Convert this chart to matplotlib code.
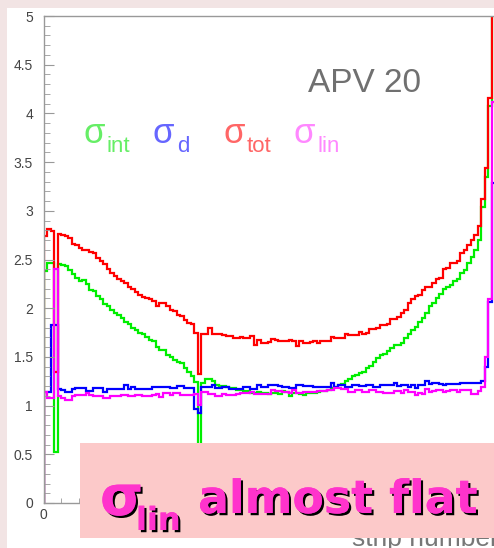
"""
APV 20 noise per strip: sigma_int, sigma_d, sigma_tot, sigma_lin histograms.
"""

import numpy as np
import matplotlib
matplotlib.use("Agg")
import matplotlib.pyplot as plt
import matplotlib.patheffects as pe
from matplotlib.patches import Rectangle
from matplotlib.ticker import MultipleLocator, FuncFormatter

W, H = 494, 548

def fx(px):
    return px / W

def fy(py):
    return 1 - py / H

# ---------------------------------------------------------------------------
# per-strip noise values (bins 0..128)
# ---------------------------------------------------------------------------
sig_tot = [
    2.74, 2.81, 2.79, 1.35, 2.76, 2.75, 2.74, 2.72, 2.66, 2.65,
    2.62, 2.60, 2.60, 2.58, 2.57, 2.52, 2.48, 2.45, 2.40, 2.36,
    2.33, 2.30, 2.28, 2.26, 2.22, 2.20, 2.17, 2.14, 2.12, 2.10,
    2.09, 2.07, 2.02, 2.05, 2.05, 2.02, 1.98, 1.97, 1.93, 1.92,
    1.88, 1.85, 1.84, 1.75, 1.32, 1.73, 1.74, 1.80, 1.74, 1.74,
    1.74, 1.72, 1.71, 1.71, 1.69, 1.69, 1.70, 1.69, 1.69, 1.71,
    1.62, 1.67, 1.64, 1.64, 1.65, 1.68, 1.67, 1.66, 1.66, 1.66,
    1.67, 1.66, 1.61, 1.66, 1.64, 1.64, 1.65, 1.66, 1.64, 1.66,
    1.66, 1.66, 1.70, 1.69, 1.69, 1.69, 1.73, 1.72, 1.72, 1.72,
    1.76, 1.74, 1.75, 1.79, 1.79, 1.80, 1.83, 1.83, 1.84, 1.89,
    1.89, 1.91, 1.95, 1.98, 2.05, 2.09, 2.13, 2.14, 2.19, 2.22,
    2.22, 2.26, 2.30, 2.31, 2.40, 2.41, 2.46, 2.46, 2.48, 2.57,
    2.60, 2.65, 2.70, 2.75, 2.84, 3.12, 3.44, 4.16, 5.60,
]
sig_int = [
    2.38, 2.46, 2.46, 0.52, 2.45, 2.44, 2.43, 2.39, 2.35, 2.31,
    2.28, 2.29, 2.25, 2.19, 2.18, 2.13, 2.09, 2.04, 2.02, 1.98,
    1.95, 1.93, 1.90, 1.86, 1.84, 1.80, 1.78, 1.75, 1.73, 1.70,
    1.67, 1.66, 1.60, 1.57, 1.57, 1.52, 1.50, 1.47, 1.45, 1.44,
    1.39, 1.35, 1.30, 1.24, 0.30, 1.23, 1.27, 1.27, 1.25, 1.21,
    1.20, 1.20, 1.19, 1.18, 1.18, 1.16, 1.16, 1.15, 1.15, 1.13,
    1.13, 1.14, 1.13, 1.13, 1.12, 1.13, 1.13, 1.12, 1.15, 1.14,
    1.10, 1.13, 1.13, 1.12, 1.11, 1.13, 1.13, 1.13, 1.14, 1.15,
    1.15, 1.16, 1.18, 1.19, 1.21, 1.22, 1.25, 1.27, 1.30, 1.31,
    1.33, 1.35, 1.39, 1.41, 1.45, 1.49, 1.52, 1.53, 1.56, 1.59,
    1.62, 1.62, 1.64, 1.69, 1.73, 1.78, 1.81, 1.86, 1.90, 1.95,
    2.02, 2.05, 2.10, 2.15, 2.20, 2.22, 2.24, 2.28, 2.30, 2.36,
    2.39, 2.46, 2.53, 2.60, 2.70, 3.04, 3.35, 4.08, 5.60,
]
sig_d = [
    1.14, 1.14, 1.83, 1.83, 1.17, 1.16, 1.14, 1.14, 1.17, 1.18,
    1.18, 1.18, 1.15, 1.15, 1.18, 1.18, 1.18, 1.14, 1.17, 1.17,
    1.17, 1.17, 1.17, 1.21, 1.17, 1.19, 1.17, 1.17, 1.17, 1.17,
    1.17, 1.19, 1.19, 1.19, 1.19, 1.19, 1.18, 1.18, 1.20, 1.20,
    1.18, 1.18, 1.18, 0.97, 0.92, 1.19, 1.19, 1.19, 1.21, 1.18,
    1.18, 1.19, 1.19, 1.17, 1.17, 1.17, 1.17, 1.19, 1.19, 1.17,
    1.17, 1.21, 1.19, 1.19, 1.21, 1.21, 1.21, 1.20, 1.19, 1.19,
    1.18, 1.18, 1.21, 1.21, 1.20, 1.20, 1.20, 1.19, 1.19, 1.19,
    1.19, 1.19, 1.23, 1.19, 1.21, 1.21, 1.19, 1.19, 1.21, 1.21,
    1.20, 1.20, 1.21, 1.21, 1.19, 1.19, 1.21, 1.21, 1.21, 1.21,
    1.23, 1.20, 1.21, 1.21, 1.19, 1.21, 1.18, 1.21, 1.21, 1.25,
    1.22, 1.23, 1.23, 1.22, 1.21, 1.22, 1.22, 1.22, 1.22, 1.23,
    1.23, 1.23, 1.23, 1.23, 1.23, 1.25, 1.40, 2.06, 3.29,
]
sig_lin = [
    1.14, 1.08, 1.08, 2.40, 1.10, 1.08, 1.06, 1.06, 1.10, 1.11,
    1.11, 1.11, 1.13, 1.11, 1.10, 1.10, 1.10, 1.08, 1.08, 1.10,
    1.10, 1.10, 1.11, 1.11, 1.10, 1.10, 1.11, 1.11, 1.10, 1.10,
    1.10, 1.11, 1.12, 1.09, 1.13, 1.13, 1.11, 1.13, 1.13, 1.11,
    1.11, 1.11, 1.11, 1.12, 1.01, 1.14, 1.14, 1.12, 1.12, 1.10,
    1.10, 1.12, 1.11, 1.11, 1.11, 1.12, 1.13, 1.13, 1.13, 1.14,
    1.12, 1.12, 1.12, 1.12, 1.12, 1.16, 1.15, 1.15, 1.14, 1.14,
    1.13, 1.16, 1.13, 1.13, 1.14, 1.14, 1.14, 1.14, 1.15, 1.15,
    1.15, 1.16, 1.16, 1.18, 1.18, 1.17, 1.17, 1.14, 1.14, 1.16,
    1.16, 1.14, 1.14, 1.16, 1.16, 1.14, 1.14, 1.13, 1.13, 1.13,
    1.15, 1.15, 1.13, 1.16, 1.14, 1.14, 1.11, 1.13, 1.12, 1.17,
    1.14, 1.15, 1.16, 1.16, 1.14, 1.15, 1.16, 1.16, 1.14, 1.16,
    1.16, 1.16, 1.12, 1.12, 1.15, 1.19, 1.50, 2.09, 4.12,
]
edges = np.arange(len(sig_tot) + 1)

# ---------------------------------------------------------------------------
# canvas
# ---------------------------------------------------------------------------
fig = plt.figure(figsize=(W / 100, H / 100), dpi=100)
fig.patch.set_facecolor("#f2e4e4")
fig.add_artist(Rectangle((fx(7), 0), 1, fy(8), transform=fig.transFigure,
                         facecolor="white", edgecolor="none", zorder=-1))

ax = fig.add_axes([fx(43.5), fy(503), 462 / W, (503 - 16) / H])
ax.set_facecolor("white")

# drawing order: int, d, tot, lin (lin ends up on top)
for vals, col in [(sig_int, "#00ee00"), (sig_d, "#0000ff"),
                  (sig_tot, "#ff0000"), (sig_lin, "#ff00ff")]:
    ax.stairs(vals, edges, color=col, linewidth=1.6, baseline=0)

ax.set_xlim(0, 132); ax.set_ylim(0, 5)
for s in ax.spines.values():
    s.set_color("#999999"); s.set_linewidth(1.0)
ax.yaxis.set_major_locator(MultipleLocator(0.5))
ax.yaxis.set_minor_locator(MultipleLocator(0.1))
ax.xaxis.set_major_locator(MultipleLocator(20))
ax.xaxis.set_minor_locator(MultipleLocator(5))
ax.yaxis.set_major_formatter(FuncFormatter(lambda v, _: f"{v:g}"))
ax.xaxis.set_major_formatter(FuncFormatter(lambda v, _: f"{v:g}"))
ax.tick_params(which="both", direction="in", color="#999999",
               top=False, right=False, labelsize=10, labelcolor="#444444")
ax.tick_params(axis="y", which="major", length=7, pad=7.5)
ax.tick_params(axis="y", which="minor", length=4.3)
ax.tick_params(axis="x", which="major", length=7, pad=3.5)
ax.tick_params(axis="x", which="minor", length=3.5)
for lab in ax.get_xticklabels() + ax.get_yticklabels():
    lab.set_family("Liberation Sans")

# ---------------------------------------------------------------------------
# annotations
# ---------------------------------------------------------------------------
fig.text(fx(364), fy(84), "APV 20", ha="center", va="center", fontsize=24,
         color="#707070", family="Liberation Sans")

legend = [(83, 106, "int", "#66ee66"), (153, 177, "d", "#6666ff"),
          (223, 247, "tot", "#ff6666"), (293, 317, "lin", "#ff88ff")]
for sx, bx, sub, col in legend:
    fig.text(fx(sx), fy(143), "σ", fontsize=25, color=col,
             family="Liberation Sans", va="baseline")
    fig.text(fx(bx), fy(152), sub, fontsize=16, color=col,
             family="Liberation Sans", va="baseline")

fig.text(fx(352), fy(546), "strip number", fontsize=19, color="#777777",
         family="Liberation Sans", va="baseline", zorder=4)

fig.add_artist(Rectangle((fx(80), fy(538)), 1, (538 - 443) / H,
                         transform=fig.transFigure, facecolor="#fcc9c9",
                         edgecolor="none", zorder=5))
shadow = [pe.withSimplePatchShadow(offset=(1.6, -1.6), shadow_rgbFace="black",
                                   alpha=1.0), pe.Normal()]
pink = "#ff33cc"
fig.text(fx(100), fy(515), "σ", fontsize=40, fontweight="bold", color=pink,
         family="DejaVu Sans", va="baseline", zorder=6, path_effects=shadow)
fig.text(fx(136), fy(530), "lin", fontsize=23, fontweight="bold", color=pink,
         family="DejaVu Sans", va="baseline", zorder=6, path_effects=shadow)
fig.text(fx(198), fy(513), "almost flat", fontsize=33, fontweight="bold",
         color=pink, family="DejaVu Sans", va="baseline", zorder=6,
         path_effects=shadow)

fig.savefig("out.png", dpi=100, facecolor=fig.get_facecolor())
